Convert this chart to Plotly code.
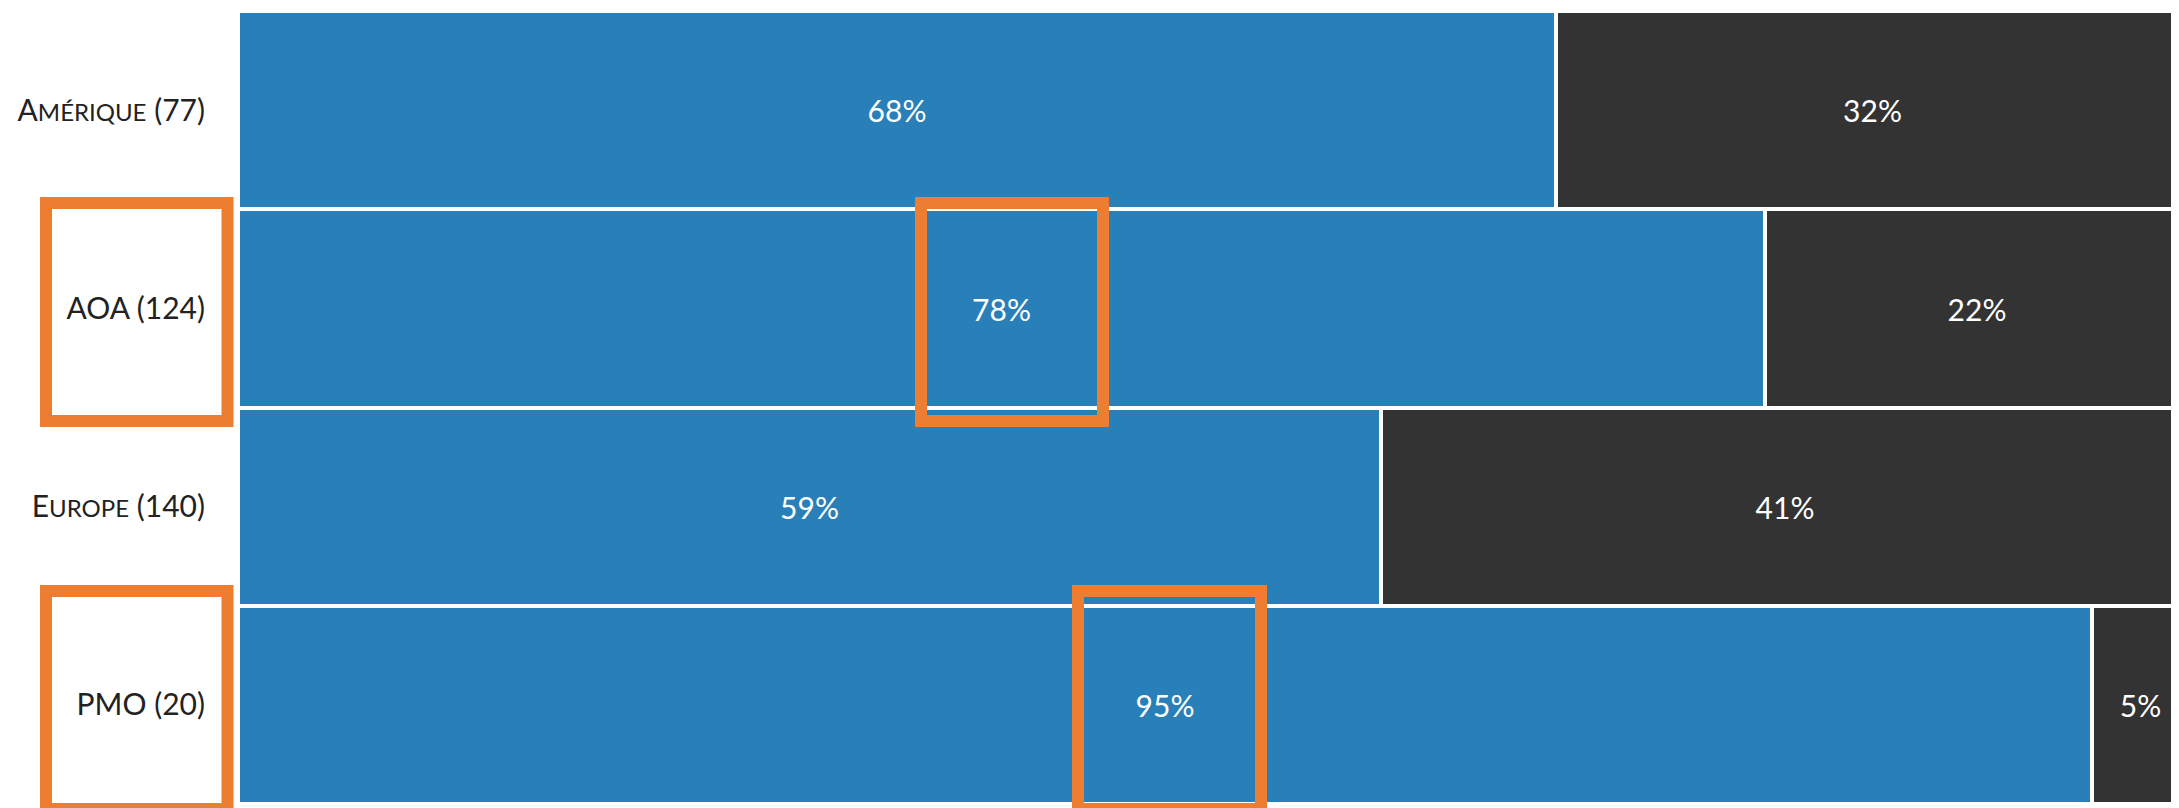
import plotly.graph_objects as go

# Data
regions = ["A<span style='font-size:24px'>MÉRIQUE</span> (77)",
           "AOA (124)",
           "E<span style='font-size:24px'>UROPE</span> (140)",
           "PMO (20)"]
share_blue = [67.53, 78.23, 58.57, 95.0]
share_dark = [32.47, 21.77, 41.43, 5.0]

W, H = 2171, 808
OFF = 8  # page offset of the figure (body margin)
ml, mr, mt, mb = 230, 0, 3, 12
pw, ph = W - ml - mr, H - mt - mb

BLUE = "#2980b9"
DARK = "#333333"
ORANGE = "#ed7d31"
FONT = "Lato"

fig = go.Figure()
for vals, col in ((share_blue, BLUE), (share_dark, DARK)):
    fig.add_trace(go.Bar(
        y=regions, x=vals, orientation="h",
        marker=dict(color=col, line=dict(color="white", width=4)),
        texttemplate="%{x:.0f}%", textposition="inside", insidetextanchor="middle",
        textfont=dict(family=FONT, size=30, color="white"),
        constraintext="none", showlegend=False, hoverinfo="skip",
    ))


def px2paper(x0, y0, x1, y1):
    x0, x1, y0, y1 = x0 - OFF, x1 - OFF, y0 - OFF, y1 - OFF
    return dict(x0=(x0 - ml) / pw, x1=(x1 - ml) / pw,
                y0=(H - mb - y0) / ph, y1=(H - mb - y1) / ph)


boxes = [(46, 203, 227.5, 421), (921, 203, 1103, 421),
         (46, 591, 227.5, 809), (1078, 591, 1261, 809)]
shapes = []
for b in boxes:
    s = dict(type="rect", xref="paper", yref="paper",
             line=dict(color=ORANGE, width=12), fillcolor="rgba(0,0,0,0)")
    s.update(px2paper(*b))
    shapes.append(s)

fig.update_layout(
    width=W, height=H,
    margin=dict(l=ml, r=mr, t=mt, b=mb, pad=0),
    barmode="stack", bargap=0.0,
    plot_bgcolor="white", paper_bgcolor="white",
    font=dict(family=FONT, size=30, color="#222222"),
    shapes=shapes,
    xaxis=dict(range=[0, 99.47], visible=False, fixedrange=True),
    yaxis=dict(categoryorder="array", categoryarray=regions, autorange="reversed",
               showgrid=False, zeroline=False, showline=False,
               ticks="outside", ticklen=26, tickcolor="rgba(0,0,0,0)",
               tickfont=dict(family=FONT, size=30, color="#222222")),
)

fig.write_html("out.html")
